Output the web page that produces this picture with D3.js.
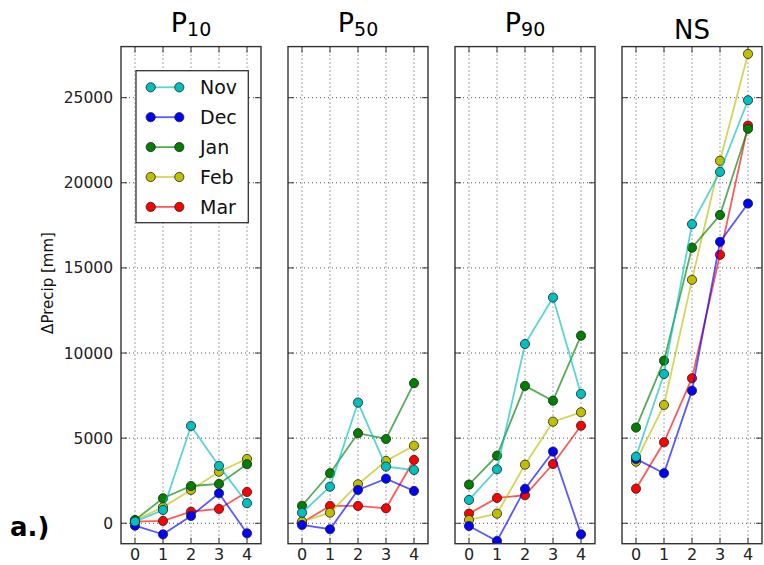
<!DOCTYPE html>
<html>
<head>
<meta charset="utf-8">
<script src="https://cdn.jsdelivr.net/npm/d3@7/dist/d3.min.js"></script>
<style>
  html, body { margin: 0; padding: 0; background: #fff; }
  svg { display: block; font-family: "DejaVu Sans", sans-serif; }
</style>
</head>
<body>
<svg id="chart" width="764" height="565"></svg>
<script>
// Scenario panels and lead steps
const panels = ["P10", "P50", "P90", "NS"];
const steps = [0, 1, 2, 3, 4];
const yTicks = [0, 5000, 10000, 15000, 20000, 25000];
const months = ["Nov", "Dec", "Jan", "Feb", "Mar"];
const monthColors = ["#00bfbf", "#0000ff", "#008000", "#bfbf00", "#ff0000"];

// ΔPrecip [mm] per month, one row per panel (P10, P50, P90, NS)
const nov = [
  [100, 780, 5720, 3370, 1180],
  [620, 2150, 7090, 3330, 3130],
  [1370, 3170, 10530, 13260, 7600],
  [3910, 8770, 17570, 20640, 24850]
];
const dec = [
  [-140, -650, 430, 1760, -590],
  [-100, -350, 1960, 2620, 1900],
  [-160, -1040, 2020, 4210, -650],
  [3780, 2940, 7790, 16530, 18780]
];
const jan = [
  [190, 1470, 2190, 2310, 3470],
  [1030, 2940, 5290, 4950, 8230],
  [2270, 3970, 8070, 7200, 11020],
  [5620, 9550, 16190, 18110, 23170]
];
const feb = [
  [175, 950, 1960, 3030, 3780],
  [100, 620, 2290, 3660, 4560],
  [195, 565, 3440, 5970, 6520],
  [3620, 6950, 14300, 21290, 27570]
];
const mar = [
  [100, 135, 680, 840, 1840],
  [35, 1020, 1020, 880, 3720],
  [565, 1490, 1645, 3480, 5730],
  [2030, 4760, 8520, 15770, 23360]
];
const monthData = [nov, dec, jan, feb, mar];

const svg = d3.select("#chart");

const panelLeft0 = 121, panelStep = 167, panelW = 140;
const x = d3.scaleLinear().domain([-0.5, 4.5]).range([0, panelW]);
const y = d3.scaleLinear().domain([-1200, 28000]).range([543.7, 46.6]);
const plotTop = y.range()[1], plotBottom = y.range()[0];
const panelH = plotBottom - plotTop;

const line = d3.line().x((d, i) => x(steps[i])).y(d => y(d));

svg.append("defs").append("clipPath").attr("id", "plotClip")
  .append("rect").attr("x", 0).attr("y", plotTop).attr("width", panelW).attr("height", panelH);

panels.forEach((p, pi) => {
  const g = svg.append("g").attr("transform", `translate(${panelLeft0 + pi * panelStep},0)`);

  // dotted grid
  const grid = g.append("g").attr("stroke", "#000").attr("stroke-width", 0.9)
    .attr("stroke-dasharray", "1,3").attr("opacity", 0.75);
  steps.forEach(s => grid.append("line").attr("x1", x(s)).attr("x2", x(s)).attr("y1", plotTop).attr("y2", plotBottom));
  yTicks.forEach(t => grid.append("line").attr("x1", 0).attr("x2", panelW).attr("y1", y(t)).attr("y2", y(t)));

  // inward tick marks on all four sides
  const ticks = g.append("g").attr("stroke", "#333").attr("stroke-width", 1);
  yTicks.forEach(t => {
    ticks.append("line").attr("x1", 0).attr("x2", 6).attr("y1", y(t)).attr("y2", y(t));
    ticks.append("line").attr("x1", panelW - 6).attr("x2", panelW).attr("y1", y(t)).attr("y2", y(t));
  });
  steps.forEach(s => {
    ticks.append("line").attr("x1", x(s)).attr("x2", x(s)).attr("y1", plotBottom).attr("y2", plotBottom - 6);
    ticks.append("line").attr("x1", x(s)).attr("x2", x(s)).attr("y1", plotTop).attr("y2", plotTop + 6);
  });

  // series: drawn from last month to first so earlier months sit on top
  const plot = g.append("g").attr("clip-path", "url(#plotClip)");
  for (let mi = months.length - 1; mi >= 0; mi--) {
    const vals = monthData[mi][pi];
    plot.append("path").datum(vals).attr("d", line).attr("fill", "none")
      .attr("stroke", monthColors[mi]).attr("stroke-width", 1.8).attr("stroke-opacity", 0.65);
    plot.selectAll(null).data(vals).enter().append("circle")
      .attr("cx", (d, i) => x(steps[i])).attr("cy", d => y(d)).attr("r", 4.6)
      .attr("fill", monthColors[mi]).attr("stroke", "#222").attr("stroke-width", 0.8);
  }

  // frame
  g.append("rect").attr("x", 0).attr("y", plotTop).attr("width", panelW).attr("height", panelH)
    .attr("fill", "none").attr("stroke", "#333").attr("stroke-width", 1.4);

  // x tick labels
  g.append("g").selectAll("text").data(steps).enter().append("text")
    .attr("x", d => x(d)).attr("y", 560).attr("text-anchor", "middle")
    .attr("font-size", 16).attr("fill", "#222").text(d => d);

  // panel title with subscript
  const cx = panelW / 2;
  if (p === "NS") {
    g.append("text").attr("x", cx).attr("y", 39).attr("text-anchor", "middle")
      .attr("font-size", 26).attr("fill", "#000").text("NS");
  } else {
    const t = g.append("text").attr("x", cx).attr("y", 32).attr("text-anchor", "middle")
      .attr("font-size", 27).attr("fill", "#000");
    t.append("tspan").text(p[0]);
    t.append("tspan").attr("font-size", 19).attr("dy", 4).text(p.slice(1));
  }

  // y tick labels on the first panel only
  if (pi === 0) {
    g.append("g").selectAll("text").data(yTicks).enter().append("text")
      .attr("x", -8).attr("y", d => y(d)).attr("dy", "0.36em").attr("text-anchor", "end")
      .attr("font-size", 15.5).attr("fill", "#222").text(d => d);
  }
});

// y axis title
svg.append("text").attr("transform", "translate(48,283) rotate(-90)")
  .attr("text-anchor", "middle").attr("dy", "0.35em")
  .attr("font-size", 15).attr("fill", "#111").text("ΔPrecip [mm]");

// legend inside the first panel
const leg = svg.append("g");
leg.append("rect").attr("x", 136).attr("y", 70.7).attr("width", 112.3).attr("height", 152)
  .attr("fill", "#fff").attr("stroke", "#333").attr("stroke-width", 1.3);
months.forEach((m, i) => {
  const ly = 87.3 + i * 29.9;
  leg.append("line").attr("x1", 150.7).attr("x2", 179.3).attr("y1", ly).attr("y2", ly)
    .attr("stroke", monthColors[i]).attr("stroke-width", 1.8).attr("stroke-opacity", 0.65);
  [150.7, 179.3].forEach(lx => leg.append("circle").attr("cx", lx).attr("cy", ly).attr("r", 4.6)
    .attr("fill", monthColors[i]).attr("stroke", "#222").attr("stroke-width", 0.8));
  leg.append("text").attr("x", 200).attr("y", ly).attr("dy", "0.36em")
    .attr("font-size", 19).attr("fill", "#111").text(m);
});

// panel tag
svg.append("text").attr("x", 10).attr("y", 536).attr("font-size", 26).attr("font-weight", "bold")
  .attr("fill", "#000").text("a.)");
</script>
</body>
</html>
